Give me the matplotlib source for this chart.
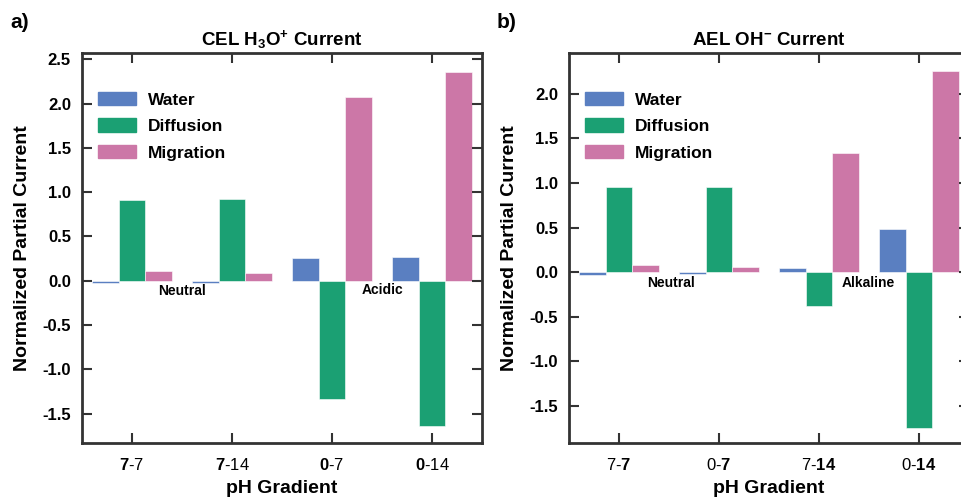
import numpy as np
import matplotlib.pyplot as plt
from matplotlib.patches import Patch

plt.rcParams['font.family'] = ['Liberation Sans', 'DejaVu Sans']
plt.rcParams['mathtext.fontset'] = 'custom'
plt.rcParams['mathtext.rm'] = 'Liberation Sans'
plt.rcParams['mathtext.bf'] = 'Liberation Sans:bold'
plt.rcParams['mathtext.it'] = 'Liberation Sans:italic'

series = ["Water", "Diffusion", "Migration"]
colors = ["#5a7fc1", "#1ba073", "#cc77a7"]

cel_labels = [r"$\mathbf{7}$-7", r"$\mathbf{7}$-14", r"$\mathbf{0}$-7", r"$\mathbf{0}$-14"]
cel_water = [-0.02, -0.02, 0.26, 0.27]
cel_diff = [0.91, 0.92, -1.33, -1.64]
cel_migr = [0.11, 0.09, 2.07, 2.36]

ael_labels = [r"7-$\mathbf{7}$", r"0-$\mathbf{7}$", r"7-$\mathbf{14}$", r"0-$\mathbf{14}$"]
ael_water = [-0.03, -0.02, 0.05, 0.48]
ael_diff = [0.95, 0.95, -0.38, -1.75]
ael_migr = [0.08, 0.06, 1.34, 2.26]

fig = plt.figure(figsize=(9.61, 4.99), dpi=100)
ax1 = fig.add_axes([82/961, 56/499, 400/961, 390/499])
ax2 = fig.add_axes([569/961, 56/499, 400/961, 390/499])

w = 0.267
x = np.arange(4)


def draw(ax, labels, vals, title, ylim, yticks, notes):
    for i, (v, c) in enumerate(zip(vals, colors)):
        ax.bar(x + (i - 1) * w, v, w, color=c, edgecolor="white", linewidth=0.4)
    ax.set_xlim(-0.5, 3.5)
    ax.set_ylim(*ylim)
    ax.set_xticks(x)
    ax.set_xticklabels(labels, fontsize=12)
    ax.set_yticks(yticks)
    ax.set_yticklabels([f"{t:.1f}" for t in yticks], fontsize=12, fontweight="bold")
    ax.tick_params(direction="in", length=7, width=1.5, top=True, right=True, colors="#333333",
                   labelcolor="black")
    ax.tick_params(axis="x", pad=10)
    ax.tick_params(axis="y", pad=8)
    for s in ax.spines.values():
        s.set_linewidth(2)
        s.set_color("#333333")
    ax.set_xlabel("pH Gradient", fontsize=14, fontweight="bold", labelpad=5)
    ax.set_ylabel("Normalized Partial Current", fontsize=14, fontweight="bold", labelpad=8)
    ax.set_title(title, fontsize=13.5, fontweight="bold", pad=6)
    for tx, ty, t in notes:
        ax.text(tx, ty, t, fontsize=10, fontweight="bold", ha="center", va="center")
    handles = [Patch(color=c) for c in colors]
    ax.legend(handles, series, loc="upper left", frameon=False,
              prop={"weight": "bold", "size": 12.5},
              bbox_to_anchor=(0.0, 0.94), handlelength=2.2, handleheight=0.8,
              labelspacing=0.62, borderaxespad=0.5, handletextpad=0.7)


draw(ax1, cel_labels, [cel_water, cel_diff, cel_migr],
     r"CEL H$_\mathbf{3}$O$^\mathbf{+}$ Current", (-1.83, 2.57),
     np.arange(-1.5, 2.6, 0.5), [(0.5, -0.12, "Neutral"), (2.5, -0.1, "Acidic")])
draw(ax2, ael_labels, [ael_water, ael_diff, ael_migr],
     r"AEL OH$^\mathbf{-}$ Current", (-1.92, 2.46),
     np.arange(-1.5, 2.1, 0.5), [(0.52, -0.12, "Neutral"), (2.49, -0.12, "Alkaline")])

fig.text(10/961, 1 - 22/499, "a)", fontsize=15, fontweight="bold", va="center")
fig.text(497/961, 1 - 22/499, "b)", fontsize=15, fontweight="bold", va="center")

fig.savefig("out.png", dpi=100)
